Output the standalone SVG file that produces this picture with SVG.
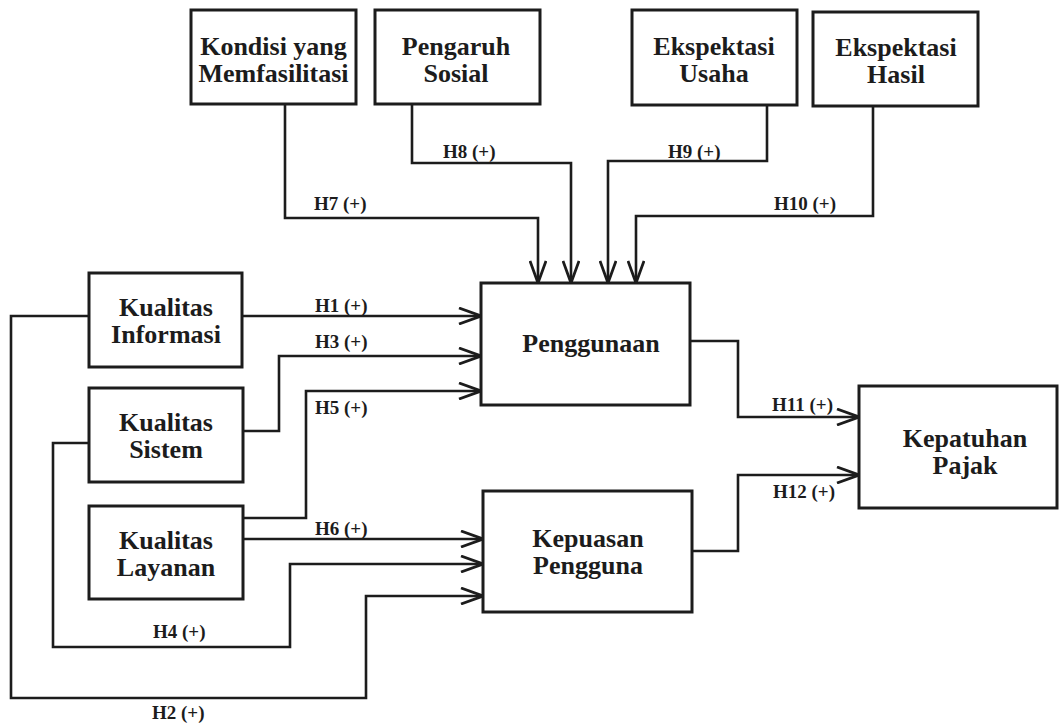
<svg xmlns="http://www.w3.org/2000/svg" width="1060" height="726" viewBox="0 0 1060 726">
<defs>
<style>
.box{fill:#fff;stroke:#1c1c1c;stroke-width:3}
.t{font-family:"Liberation Serif","Times New Roman",serif;font-weight:bold;font-size:26px;fill:#1c1c1c;text-anchor:middle}
.lb{font-family:"Liberation Serif","Times New Roman",serif;font-weight:bold;font-size:19px;fill:#1c1c1c}
.c{fill:none;stroke:#1c1c1c;stroke-width:2.6;marker-end:url(#arr)}
</style>
<marker id="arr" markerUnits="userSpaceOnUse" viewBox="0 0 24 18" refX="23" refY="9" markerWidth="24" markerHeight="18" orient="auto">
<path d="M1,1 L23,9 L1,17" fill="none" stroke="#1c1c1c" stroke-width="2.8"/>
</marker>
</defs>
<rect width="1060" height="726" fill="#fff"/>
<g id="connectors">
<path class="c" d="M242,316 H481"/>
<path class="c" d="M89,316 H11 V698 H366 V596 H483"/>
<path class="c" d="M243,431 H279 V356 H481"/>
<path class="c" d="M89,443 H53 V647 H290 V564 H483"/>
<path class="c" d="M243,518 H306 V391 H481"/>
<path class="c" d="M243,539 H483"/>
<path class="c" d="M285,104 V218 H538 V283"/>
<path class="c" d="M412,104 V163 H571 V283"/>
<path class="c" d="M767,105 V161 H608 V283"/>
<path class="c" d="M873,106 V216 H636 V283"/>
<path class="c" d="M690,341 H738 V417 H859"/>
<path class="c" d="M692,551 H738 V475 H859"/>
<text class="lb" x="315" y="312">H1 (+)</text>
<text class="lb" x="152" y="719">H2 (+)</text>
<text class="lb" x="315" y="348">H3 (+)</text>
<text class="lb" x="153" y="638">H4 (+)</text>
<text class="lb" x="315" y="414">H5 (+)</text>
<text class="lb" x="315" y="535">H6 (+)</text>
<text class="lb" x="314" y="210">H7 (+)</text>
<text class="lb" x="443" y="158">H8 (+)</text>
<text class="lb" x="668" y="158">H9 (+)</text>
<text class="lb" x="774" y="210">H10 (+)</text>
<text class="lb" x="772" y="411">H11 (+)</text>
<text class="lb" x="773" y="498">H12 (+)</text>
</g>
<g id="kondisi">
<rect class="box" x="191" y="10" width="165" height="94"/>
<text class="t" x="273.5" y="55">Kondisi yang</text>
<text class="t" x="273.5" y="82">Memfasilitasi</text>
</g>
<g id="pengaruh">
<rect class="box" x="375" y="10" width="165" height="94"/>
<text class="t" x="456" y="55">Pengaruh</text>
<text class="t" x="456" y="82">Sosial</text>
</g>
<g id="ekspektasi-usaha">
<rect class="box" x="632" y="10" width="165" height="95"/>
<text class="t" x="714" y="55">Ekspektasi</text>
<text class="t" x="714" y="82">Usaha</text>
</g>
<g id="ekspektasi-hasil">
<rect class="box" x="813" y="12" width="165" height="94"/>
<text class="t" x="896" y="56">Ekspektasi</text>
<text class="t" x="896" y="83">Hasil</text>
</g>
<g id="kualitas-informasi">
<rect class="box" x="89" y="273" width="153" height="94"/>
<text class="t" x="166" y="316">Kualitas</text>
<text class="t" x="166" y="343">Informasi</text>
</g>
<g id="kualitas-sistem">
<rect class="box" x="89" y="388" width="154" height="94"/>
<text class="t" x="166" y="431">Kualitas</text>
<text class="t" x="166" y="458">Sistem</text>
</g>
<g id="kualitas-layanan">
<rect class="box" x="89" y="506" width="154" height="93"/>
<text class="t" x="166" y="549">Kualitas</text>
<text class="t" x="166" y="576">Layanan</text>
</g>
<g id="penggunaan">
<rect class="box" x="481" y="283" width="209" height="122"/>
<text class="t" x="591" y="352">Penggunaan</text>
</g>
<g id="kepuasan">
<rect class="box" x="483" y="491" width="209" height="121"/>
<text class="t" x="588" y="547">Kepuasan</text>
<text class="t" x="588" y="574">Pengguna</text>
</g>
<g id="kepatuhan">
<rect class="box" x="859" y="386" width="198" height="122"/>
<text class="t" x="965" y="447">Kepatuhan</text>
<text class="t" x="965" y="474">Pajak</text>
</g>
</svg>
